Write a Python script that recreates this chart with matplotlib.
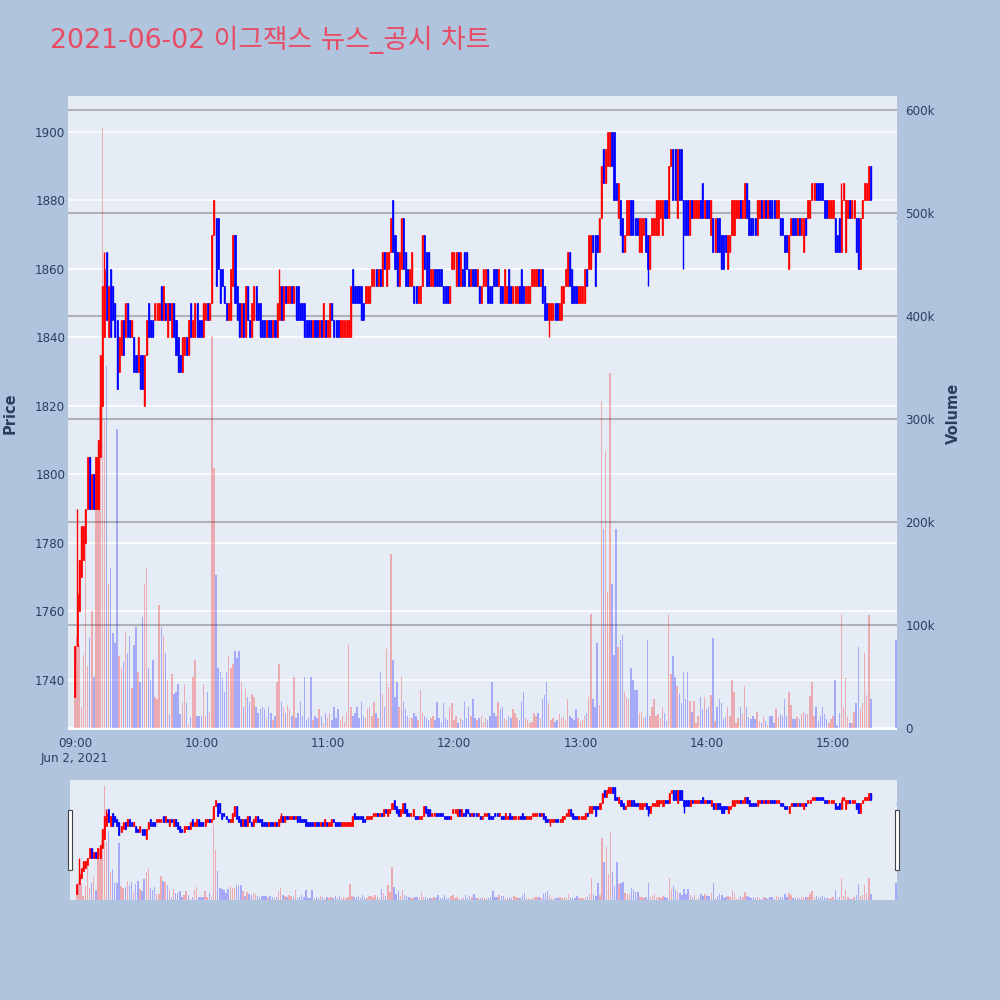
import numpy as np
import pandas as pd
import matplotlib
matplotlib.use("Agg")
import matplotlib.pyplot as plt
import matplotlib.transforms as mtransforms
from matplotlib.patches import Rectangle

title = "2021-06-02 이그잭스 뉴스_공시 차트"
start = "2021-06-02 09:00"

# one candle per minute 09:00 .. 15:18
opens = [
    1735, 1750, 1760, 1770, 1775, 1780, 1790, 1805, 1790, 1800,
    1790, 1790, 1805, 1820, 1840, 1865, 1840, 1860, 1855, 1850,
    1845, 1830, 1835, 1845, 1840, 1850, 1845, 1840, 1840, 1835,
    1830, 1835, 1835, 1820, 1835, 1850, 1845, 1845, 1845, 1845,
    1845, 1855, 1845, 1850, 1840, 1850, 1840, 1850, 1845, 1840,
    1835, 1830, 1835, 1840, 1835, 1850, 1840, 1840, 1850, 1845,
    1845, 1840, 1845, 1850, 1845, 1850, 1870, 1875, 1875, 1860,
    1860, 1855, 1850, 1845, 1845, 1855, 1870, 1855, 1850, 1840,
    1850, 1840, 1855, 1845, 1840, 1845, 1855, 1850, 1850, 1845,
    1845, 1840, 1845, 1845, 1840, 1845, 1840, 1845, 1855, 1845,
    1855, 1850, 1850, 1855, 1850, 1855, 1855, 1850, 1850, 1850,
    1845, 1845, 1845, 1840, 1845, 1845, 1840, 1845, 1840, 1845,
    1840, 1840, 1850, 1845, 1845, 1845, 1840, 1840, 1840, 1840,
    1840, 1840, 1860, 1855, 1855, 1855, 1855, 1850, 1850, 1850,
    1850, 1855, 1855, 1860, 1855, 1860, 1855, 1865, 1855, 1860,
    1865, 1880, 1870, 1865, 1855, 1860, 1875, 1865, 1860, 1855,
    1855, 1855, 1855, 1850, 1850, 1855, 1870, 1865, 1865, 1855,
    1855, 1860, 1860, 1860, 1860, 1855, 1855, 1855, 1850, 1860,
    1860, 1855, 1865, 1855, 1860, 1865, 1865, 1860, 1855, 1860,
    1860, 1855, 1855, 1850, 1855, 1855, 1860, 1855, 1855, 1860,
    1860, 1855, 1855, 1855, 1850, 1850, 1860, 1855, 1850, 1850,
    1850, 1855, 1860, 1855, 1850, 1850, 1850, 1855, 1855, 1855,
    1860, 1855, 1860, 1855, 1850, 1845, 1845, 1845, 1850, 1850,
    1845, 1845, 1850, 1855, 1855, 1865, 1860, 1855, 1855, 1850,
    1850, 1850, 1850, 1860, 1860, 1860, 1870, 1870, 1870, 1865,
    1875, 1895, 1885, 1890, 1890, 1900, 1900, 1885, 1875, 1880,
    1875, 1865, 1870, 1870, 1880, 1880, 1875, 1875, 1865, 1865,
    1870, 1875, 1870, 1860, 1870, 1870, 1870, 1870, 1875, 1870,
    1880, 1880, 1875, 1890, 1895, 1895, 1875, 1895, 1895, 1880,
    1880, 1880, 1870, 1880, 1875, 1875, 1875, 1880, 1885, 1875,
    1880, 1880, 1870, 1875, 1865, 1875, 1875, 1870, 1870, 1870,
    1860, 1865, 1870, 1870, 1875, 1875, 1880, 1875, 1875, 1885,
    1880, 1875, 1875, 1875, 1870, 1875, 1880, 1875, 1880, 1875,
    1880, 1880, 1880, 1875, 1875, 1875, 1875, 1870, 1870, 1860,
    1870, 1875, 1875, 1870, 1875, 1870, 1865, 1875, 1875, 1875,
    1880, 1880, 1885, 1885, 1885, 1885, 1880, 1880, 1875, 1875,
    1875, 1875, 1870, 1875, 1865, 1880, 1865, 1875, 1880, 1875,
    1875, 1875, 1875, 1860, 1875, 1880, 1880, 1880, 1890,
]
closes = [
    1750, 1765, 1775, 1785, 1785, 1790, 1805, 1790, 1800, 1790,
    1805, 1810, 1835, 1855, 1860, 1845, 1855, 1840, 1845, 1840,
    1825, 1840, 1845, 1835, 1850, 1840, 1840, 1845, 1830, 1830,
    1840, 1825, 1825, 1835, 1845, 1840, 1840, 1840, 1850, 1850,
    1850, 1845, 1855, 1845, 1850, 1845, 1850, 1840, 1835, 1830,
    1830, 1840, 1840, 1835, 1845, 1840, 1845, 1850, 1840, 1840,
    1840, 1850, 1850, 1845, 1850, 1870, 1880, 1855, 1860, 1850,
    1855, 1850, 1845, 1850, 1860, 1870, 1850, 1845, 1840, 1850,
    1840, 1855, 1845, 1840, 1850, 1855, 1845, 1845, 1840, 1840,
    1840, 1845, 1840, 1840, 1845, 1840, 1850, 1855, 1845, 1855,
    1850, 1855, 1855, 1850, 1855, 1845, 1845, 1845, 1845, 1840,
    1840, 1840, 1840, 1845, 1840, 1840, 1845, 1840, 1850, 1840,
    1845, 1850, 1845, 1840, 1840, 1840, 1845, 1845, 1845, 1845,
    1845, 1855, 1850, 1850, 1850, 1850, 1845, 1845, 1855, 1855,
    1855, 1860, 1860, 1855, 1860, 1855, 1865, 1860, 1865, 1865,
    1875, 1865, 1860, 1855, 1865, 1875, 1860, 1855, 1855, 1860,
    1865, 1850, 1850, 1855, 1855, 1870, 1860, 1855, 1855, 1860,
    1860, 1855, 1855, 1855, 1855, 1850, 1850, 1850, 1855, 1865,
    1865, 1865, 1855, 1865, 1855, 1855, 1860, 1855, 1860, 1855,
    1855, 1860, 1850, 1855, 1860, 1860, 1850, 1850, 1850, 1855,
    1855, 1860, 1850, 1850, 1860, 1855, 1850, 1850, 1855, 1855,
    1855, 1850, 1850, 1850, 1855, 1855, 1855, 1860, 1860, 1860,
    1855, 1860, 1850, 1845, 1845, 1850, 1850, 1850, 1845, 1845,
    1850, 1855, 1855, 1860, 1865, 1855, 1850, 1850, 1850, 1855,
    1855, 1855, 1860, 1855, 1870, 1870, 1865, 1855, 1865, 1875,
    1890, 1885, 1895, 1900, 1900, 1890, 1880, 1880, 1885, 1870,
    1865, 1870, 1880, 1880, 1870, 1870, 1870, 1870, 1875, 1875,
    1875, 1865, 1860, 1870, 1875, 1875, 1880, 1880, 1880, 1880,
    1875, 1875, 1890, 1895, 1880, 1880, 1895, 1880, 1880, 1870,
    1870, 1870, 1880, 1875, 1880, 1880, 1880, 1875, 1875, 1880,
    1875, 1875, 1880, 1865, 1875, 1865, 1865, 1860, 1860, 1865,
    1870, 1870, 1880, 1880, 1880, 1880, 1875, 1880, 1885, 1875,
    1870, 1870, 1870, 1870, 1880, 1880, 1875, 1880, 1875, 1880,
    1875, 1875, 1875, 1880, 1880, 1870, 1870, 1865, 1865, 1870,
    1875, 1870, 1870, 1875, 1870, 1875, 1875, 1870, 1880, 1880,
    1885, 1885, 1880, 1880, 1880, 1880, 1875, 1875, 1880, 1880,
    1880, 1865, 1865, 1865, 1880, 1885, 1880, 1880, 1875, 1880,
    1880, 1865, 1860, 1875, 1880, 1885, 1885, 1890, 1880,
]
# volume in thousands of shares
volume_k = [
    62, 88, 81, 20, 71, 180, 60, 87, 114, 50,
    214, 263, 313, 583, 298, 351, 140, 155, 92, 83,
    290, 70, 58, 64, 94, 73, 89, 39, 81, 98,
    54, 45, 108, 140, 155, 58, 47, 66, 30, 28,
    119, 98, 89, 73, 47, 14, 52, 33, 35, 43,
    14, 24, 43, 24, 3, 11, 50, 66, 12, 12,
    12, 43, 12, 35, 16, 381, 252, 149, 58, 54,
    49, 35, 54, 70, 58, 62, 75, 68, 75, 45,
    20, 38, 30, 25, 33, 30, 20, 15, 18, 20,
    18, 10, 20, 15, 8, 12, 45, 62, 25, 20,
    15, 22, 18, 12, 50, 10, 15, 25, 12, 50,
    8, 10, 50, 8, 12, 10, 18, 12, 5, 15,
    10, 15, 8, 20, 10, 18, 8, 12, 6, 15,
    81, 20, 12, 15, 20, 10, 25, 12, 10, 18,
    20, 12, 25, 15, 10, 54, 33, 20, 77, 40,
    169, 66, 30, 45, 20, 50, 25, 18, 12, 10,
    10, 15, 12, 8, 37, 15, 12, 10, 8, 10,
    12, 8, 25, 10, 6, 24, 10, 8, 20, 24,
    8, 12, 5, 10, 8, 25, 10, 20, 12, 28,
    10, 8, 10, 12, 6, 10, 8, 12, 45, 15,
    12, 25, 18, 20, 10, 8, 12, 10, 18, 15,
    10, 8, 25, 35, 10, 8, 5, 6, 15, 12,
    15, 10, 28, 32, 45, 24, 8, 10, 6, 8,
    14, 10, 11, 8, 28, 12, 10, 8, 18, 10,
    6, 8, 12, 15, 30, 111, 28, 20, 83, 22,
    317, 193, 269, 132, 345, 140, 71, 193, 79, 85,
    90, 35, 30, 28, 58, 47, 37, 37, 15, 16,
    10, 12, 85, 12, 20, 28, 12, 14, 10, 20,
    15, 7, 111, 52, 70, 50, 41, 33, 24, 54,
    28, 54, 26, 16, 26, 5, 12, 30, 18, 30,
    18, 20, 32, 87, 7, 20, 28, 24, 9, 11,
    20, 12, 47, 35, 5, 10, 20, 14, 41, 20,
    11, 9, 12, 9, 16, 7, 5, 11, 7, 3,
    12, 12, 5, 18, 11, 14, 12, 28, 12, 35,
    22, 9, 9, 11, 9, 14, 16, 14, 14, 31,
    45, 12, 20, 7, 12, 20, 14, 9, 5, 9,
    12, 47, 3, 15, 111, 20, 49, 11, 5, 5,
    16, 24, 79, 18, 24, 73, 32, 110, 28,
]
# extra wick extremes (minute index -> price)
wick_high = {1: 1790, 14: 1865, 97: 1860, 364: 1885}
wick_low = {225: 1840, 272: 1855, 289: 1860}

# closing auction print
close_time = "2021-06-02 15:30"
close_price = 1875
close_volume_k = 85

price_ticks = [1740, 1760, 1780, 1800, 1820, 1840, 1860, 1880, 1900]
volume_ticks_k = [0, 100, 200, 300, 400, 500, 600]
hour_ticks = ["09:00", "10:00", "11:00", "12:00", "13:00", "14:00", "15:00"]

PAPER = "#B0C4DE"
PLOT_BG = "#E5ECF6"
FONT_C = "#2a3f5f"
RED = "#FF0000"
BLUE = "#0000FF"

# ---- build frame
times = list(pd.date_range(start, periods=len(opens), freq="min")) + [pd.Timestamp(close_time)]
df = pd.DataFrame({
    "time": times,
    "open": opens + [close_price],
    "close": closes + [close_price],
    "volume": np.array(volume_k + [close_volume_k]) * 1000,
})
df["high"] = df[["open", "close"]].max(axis=1)
df["low"] = df[["open", "close"]].min(axis=1)
for k, v in wick_high.items():
    df.loc[k, "high"] = v
for k, v in wick_low.items():
    df.loc[k, "low"] = v
t0 = pd.Timestamp(start)
df["x"] = (df["time"] - t0).dt.total_seconds() / 60.0
up = (df["close"] > df["open"]).values
colors = np.where(up, RED, BLUE)

XLIM = (-3.3, 390.4)
PLIM = (1725.4, 1910.5)
VLIM = (-1940, 613600)


def draw_candles(ax, body_w, lw):
    x = df["x"].values
    for mask, col in ((up, RED), (~up, BLUE)):
        ax.vlines(x[mask], df["low"].values[mask], df["high"].values[mask],
                  color=col, lw=lw, zorder=3)
        bot = np.minimum(df["open"].values, df["close"].values)[mask]
        hgt = np.abs(df["close"].values - df["open"].values)[mask]
        ax.bar(x[mask], hgt, bottom=bot, width=body_w, color=col,
               edgecolor=col, linewidth=lw * 0.5, zorder=4)


def draw_volume(ax, w):
    ax.bar(df["x"].values, df["volume"].values, width=w, color=colors,
           alpha=0.28, linewidth=0, zorder=2)


fig = plt.figure(figsize=(10, 10), dpi=100, facecolor=PAPER)
fig.text(0.05, 0.960, title, color="#E84C64", fontsize=19.3, va="center",
         ha="left", family=["DejaVu Sans", "Noto Sans CJK KR"])

# main area: volume axis (behind) + price axis (front)
axv = fig.add_axes([0.068, 0.270, 0.829, 0.634])
ax = axv.twinx()
ax.set_zorder(axv.get_zorder() + 1)
ax.patch.set_visible(False)
axv.set_facecolor(PLOT_BG)

axv.set_xlim(*XLIM)
ax.set_ylim(*PLIM)
axv.set_ylim(*VLIM)

# price grid (white) drawn in the back axes
blend = mtransforms.blended_transform_factory(axv.transAxes, ax.transData)
for p in price_ticks:
    axv.plot([0, 1], [p, p], transform=blend, color="white", lw=1.1, zorder=0.5)
for v in volume_ticks_k[1:]:
    axv.axhline(v * 1000, color="#b0b1b5", lw=1.5, zorder=0.6)
axv.axhline(0, color="white", lw=2, zorder=0.7)

draw_volume(axv, 0.7)
draw_candles(ax, 0.5, 1.0)

# price ticks on the left, volume on the right
ax.yaxis.tick_left()
axv.yaxis.tick_right()
ax.set_yticks(price_ticks)
ax.set_yticklabels([str(p) for p in price_ticks])
axv.set_yticks([v * 1000 for v in volume_ticks_k])
axv.set_yticklabels(["0"] + [f"{v}k" for v in volume_ticks_k[1:]])
hour_x = [(pd.Timestamp(f"2021-06-02 {h}") - t0).total_seconds() / 60 for h in hour_ticks]
axv.set_xticks(hour_x)
axv.set_xticklabels(hour_ticks)
for a in (ax, axv):
    a.tick_params(length=0, labelsize=8.6, labelcolor=FONT_C)
    for s in a.spines.values():
        s.set_visible(False)
ax.tick_params(axis="y", pad=2)
axv.tick_params(axis="y", pad=6)
axv.tick_params(axis="x", pad=5)
axv.set_xlim(*XLIM)
axv.text(hour_x[0], -0.045, t0.strftime("%b ") + str(t0.day) + t0.strftime(", %Y"),
         transform=mtransforms.blended_transform_factory(axv.transData, axv.transAxes),
         ha="center", va="center", fontsize=8.6, color=FONT_C)

fig.text(0.010, 0.587, "Price", rotation=90, ha="center", va="center",
         fontsize=10.5, fontweight="bold", color=FONT_C)
fig.text(0.953, 0.587, "Volume", rotation=90, ha="center", va="center",
         fontsize=10.5, fontweight="bold", color=FONT_C)

# range slider
sv = fig.add_axes([0.070, 0.100, 0.827, 0.120])
sp = sv.twinx()
sp.set_zorder(sv.get_zorder() + 1)
sp.patch.set_visible(False)
sv.set_facecolor(PLOT_BG)
sv.set_xlim(*XLIM)
sv.set_ylim(*VLIM)
sp.set_ylim(*PLIM)
draw_volume(sv, 0.7)
draw_candles(sp, 0.5, 1.0)
for a in (sv, sp):
    a.set_xticks([])
    a.set_yticks([])
    for s in a.spines.values():
        s.set_visible(False)
for hx in (-0.003, 0.997):
    sv.add_patch(Rectangle((hx, 0.25), 0.006, 0.5, transform=sv.transAxes,
                           facecolor="white", edgecolor="#444444", lw=0.8,
                           clip_on=False, zorder=10))

fig.savefig("out.png", dpi=100, facecolor=PAPER)
